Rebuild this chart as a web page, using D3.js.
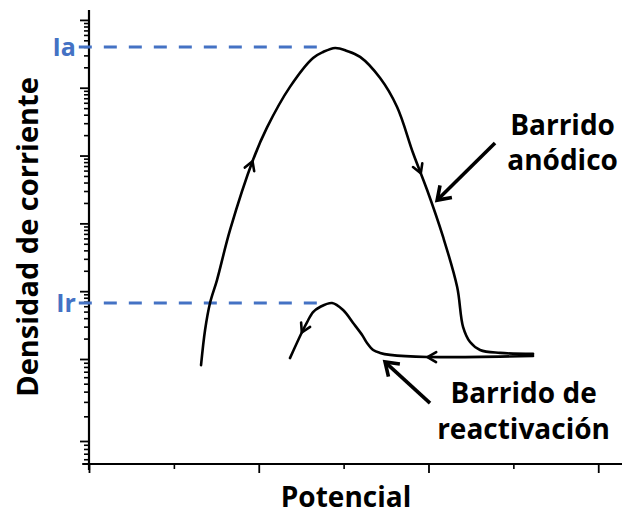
<!DOCTYPE html>
<html>
<head>
<meta charset="utf-8">
<script src="https://cdn.jsdelivr.net/npm/d3@7"></script>
<style>
  body { margin: 0; background: #fff; }
  text { font-family: "Open Sans", sans-serif; font-weight: bold; }
</style>
</head>
<body>
<div class="chart"></div>
<script>
const width = 624;
const height = 515;

// potential (arbitrary units) and current density values
const anodicE = [0.66, 0.684, 0.713, 0.754, 0.831, 0.966, 1.049, 1.184, 1.32, 1.379, 1.45, 1.52, 1.597, 1.715, 1.815, 1.909, 1.992, 2.086, 2.169, 2.204, 2.245, 2.304, 2.422, 2.616];
const anodicJ = [8.4e-6, 2.7e-5, 6.7e-5, 1.46e-4, 8.0e-4, 8.6e-3, 2.6e-2, 0.103, 0.275, 0.337, 0.386, 0.349, 0.285, 0.139, 0.052, 0.0109, 3.1e-3, 6.3e-4, 1.15e-4, 2.96e-5, 1.78e-5, 1.36e-5, 1.23e-5, 1.19e-5];
const reactE = [2.616, 1.992, 1.774, 1.715, 1.674, 1.638, 1.609, 1.556, 1.497, 1.432, 1.361, 1.32, 1.285, 1.255, 1.184];
const reactJ = [1.11e-5, 1.07e-5, 1.15e-5, 1.23e-5, 1.36e-5, 1.72e-5, 2.26e-5, 3.4e-5, 5.28e-5, 6.7e-5, 5.85e-5, 4.93e-5, 3.5e-5, 2.5e-5, 1.03e-5];

// arrow heads along the curves (fraction of path length)
const anodicArrowsAt = [0.278, 0.68];
const reactArrowsAt = [0.355, 0.905];

// peak markers
const peakNames = ["Ia", "Ir"];
const peakJ = [0.40, 6.7e-5];
const peakLineE = [-0.06, 1.36];

// axis ticks
const xMajorTicks = [0, 1, 2, 3];
const xMinorTicks = [0.5, 1.5, 2.5];
const yDecades = [-6, -5, -4, -3, -2, -1, 0];

// annotations
const labelAnodic = ["Barrido", "anódico"];
const labelAnodicAt = [2.79, 0.020];
const pointerAnodic = [[2.392, 0.0153], [2.051, 2.2e-3]];
const labelReact = ["Barrido de", "reactivación"];
const labelReactAt = [2.56, 2.9e-6];
const pointerReact = [[2.009, 2.9e-6], [1.744, 9.2e-6]];

const blue = "#4472C4";

const svg = d3.select("div.chart")
    .append("svg")
    .attr("width", width)
    .attr("height", height)
    .attr("viewBox", [0, 0, width, height]);

svg.append("rect").attr("width", width).attr("height", height).attr("fill", "#fff");

const x = d3.scaleLinear()
    .domain([0, 3.14])
    .range([89, 622]);

// the bottom decade of the original figure is drawn a bit taller
const y = d3.scaleLog()
    .domain([5.25e-7, 1e-6, 1e-5, 1.4])
    .range([464, 441, 359, 10]);

// y axis: major decades + minor 2..9
const yMajor = yDecades.map(k => Math.pow(10, k));
const yMinor = [];
for (let k = -7; k <= 0; k++) {
    for (let m = 2; m <= 9; m++) {
        const v = m * Math.pow(10, k);
        if (v > 5.25e-7 && v < 1.4) yMinor.push(v);
    }
}

svg.append("g")
    .attr("transform", `translate(${x(0)},0)`)
    .call(d3.axisLeft(y).tickValues(yMajor).tickSize(9).tickFormat(""))
    .call(g => g.select(".domain").remove())
    .call(g => g.selectAll("line").attr("stroke", "#000").attr("stroke-width", 1.8));

svg.append("g")
    .attr("transform", `translate(${x(0)},0)`)
    .call(d3.axisLeft(y).tickValues(yMinor).tickSize(5).tickFormat(""))
    .call(g => g.select(".domain").remove())
    .call(g => g.selectAll("line").attr("stroke", "#000").attr("stroke-width", 1.6));

svg.append("g")
    .attr("transform", `translate(0,${y(5.25e-7)})`)
    .call(d3.axisBottom(x).tickValues(xMajorTicks).tickSize(9).tickFormat(""))
    .call(g => g.select(".domain").remove())
    .call(g => g.selectAll("line").attr("stroke", "#000").attr("stroke-width", 1.8));

svg.append("g")
    .attr("transform", `translate(0,${y(5.25e-7)})`)
    .call(d3.axisBottom(x).tickValues(xMinorTicks).tickSize(5).tickFormat(""))
    .call(g => g.select(".domain").remove())
    .call(g => g.selectAll("line").attr("stroke", "#000").attr("stroke-width", 1.6));

// axis lines
svg.append("line")
    .attr("x1", x(0)).attr("x2", x(0))
    .attr("y1", y(1.4)).attr("y2", y(5.25e-7) + 6)
    .attr("stroke", "#000").attr("stroke-width", 2.2);
svg.append("line")
    .attr("x1", x(-0.04)).attr("x2", x(3.14))
    .attr("y1", y(5.25e-7)).attr("y2", y(5.25e-7))
    .attr("stroke", "#000").attr("stroke-width", 2.2);

// axis titles
svg.append("text")
    .attr("transform", `translate(38,${(y(1.4) + y(5.25e-7)) / 2})rotate(-90)`)
    .attr("text-anchor", "middle")
    .attr("font-size", 29)
    .text("Densidad de corriente");

svg.append("text")
    .attr("x", 346)
    .attr("y", 507)
    .attr("text-anchor", "middle")
    .attr("font-size", 28)
    .text("Potencial");

// peak dashed lines
peakNames.forEach((name, i) => {
    svg.append("line")
        .attr("x1", x(peakLineE[0])).attr("x2", x(peakLineE[1]))
        .attr("y1", y(peakJ[i])).attr("y2", y(peakJ[i]))
        .attr("stroke", blue)
        .attr("stroke-width", 3)
        .attr("stroke-dasharray", "13 12");
    svg.append("text")
        .attr("x", x(peakLineE[0]) - 3)
        .attr("y", y(peakJ[i]))
        .attr("dy", "0.36em")
        .attr("text-anchor", "end")
        .attr("fill", blue)
        .attr("font-size", 25)
        .text(name);
});

const line = d3.line()
    .x(d => x(d[0]))
    .y(d => y(d[1]))
    .curve(d3.curveCatmullRom.alpha(0.5));

function drawCurve(E, J, arrowsAt) {
    const pts = E.map((e, i) => [e, J[i]]);
    const path = svg.append("path")
        .attr("d", line(pts))
        .attr("fill", "none")
        .attr("stroke", "#000")
        .attr("stroke-width", 2.6)
        .attr("stroke-linecap", "round")
        .attr("stroke-linejoin", "round");
    const node = path.node();
    const len = node.getTotalLength();
    arrowsAt.forEach(t => {
        const l = t * len;
        const p = node.getPointAtLength(l);
        const p0 = node.getPointAtLength(Math.max(0, l - 3));
        const a = Math.atan2(p.y - p0.y, p.x - p0.x);
        const s = 10, w = Math.PI / 6;
        const back1 = [p.x - s * Math.cos(a - w), p.y - s * Math.sin(a - w)];
        const back2 = [p.x - s * Math.cos(a + w), p.y - s * Math.sin(a + w)];
        svg.append("path")
            .attr("d", `M${back1}L${p.x},${p.y}L${back2}`)
            .attr("fill", "none")
            .attr("stroke", "#000")
            .attr("stroke-width", 2.6)
            .attr("stroke-linejoin", "round")
            .attr("stroke-linecap", "round");
    });
}

drawCurve(anodicE, anodicJ, anodicArrowsAt);
drawCurve(reactE, reactJ, reactArrowsAt);

// annotation pointers
function pointer(from, to) {
    const x1 = x(from[0]), y1 = y(from[1]);
    const x2 = x(to[0]), y2 = y(to[1]);
    const a = Math.atan2(y2 - y1, x2 - x1);
    const s = 15, w = 0.6;
    svg.append("line")
        .attr("x1", x1).attr("y1", y1)
        .attr("x2", x2 - 2 * Math.cos(a)).attr("y2", y2 - 2 * Math.sin(a))
        .attr("stroke", "#000").attr("stroke-width", 3.6);
    svg.append("path")
        .attr("d", `M${x2 - s * Math.cos(a - w)},${y2 - s * Math.sin(a - w)}L${x2},${y2}L${x2 - s * Math.cos(a + w)},${y2 - s * Math.sin(a + w)}`)
        .attr("fill", "none")
        .attr("stroke", "#000")
        .attr("stroke-width", 3.6)
        .attr("stroke-linejoin", "miter");
}

pointer(pointerAnodic[0], pointerAnodic[1]);
pointer(pointerReact[0], pointerReact[1]);

function label(lines, at, lineHeight) {
    const t = svg.append("text")
        .attr("x", x(at[0]))
        .attr("y", y(at[1]))
        .attr("text-anchor", "middle")
        .attr("font-size", 28);
    lines.forEach((s, i) => {
        t.append("tspan")
            .attr("x", x(at[0]))
            .attr("dy", i === 0 ? 0 : lineHeight)
            .text(s);
    });
}

label(labelAnodic, labelAnodicAt, 35);
label(labelReact, labelReactAt, 36);
</script>
</body>
</html>
